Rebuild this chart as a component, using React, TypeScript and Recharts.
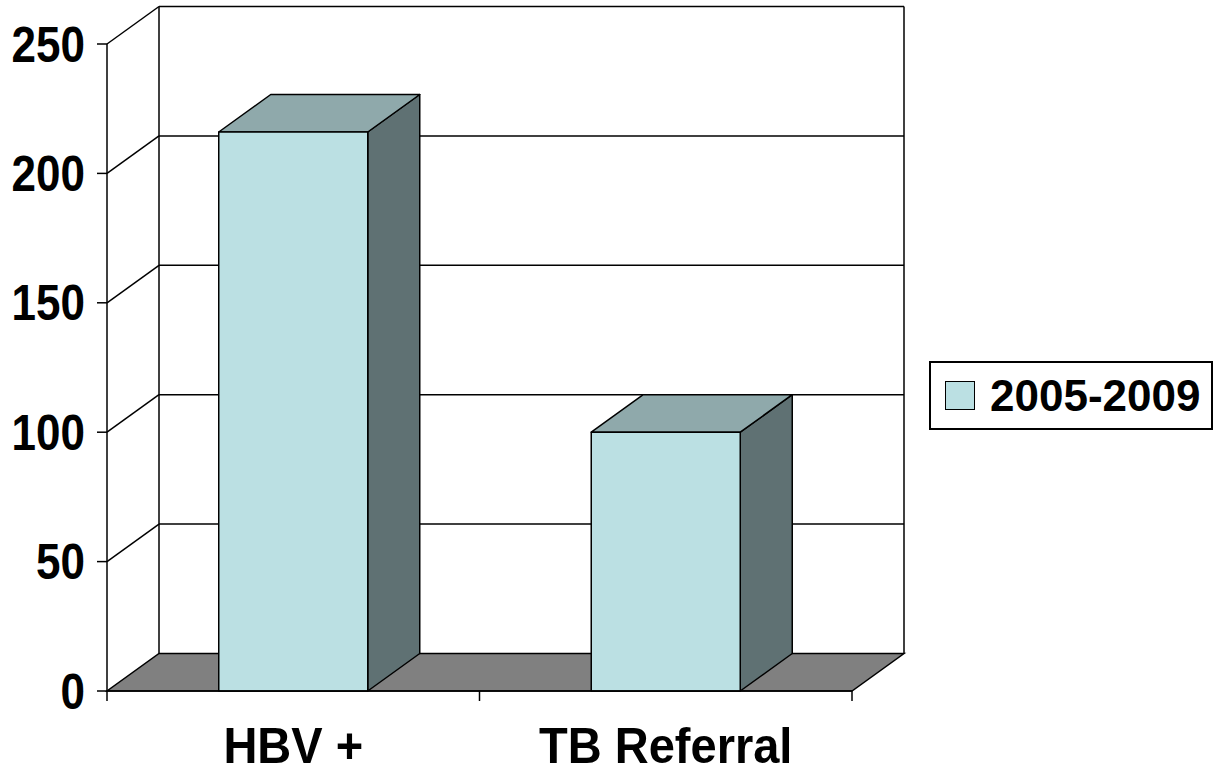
import React from 'react';
import { BarChart, Bar, XAxis, YAxis, CartesianGrid } from 'recharts';

const CATEGORIES = ['HBV +', 'TB Referral'];
const VALUES = [216, 100];
const SERIES_NAME = '2005-2009';
const Y_TICKS = [0, 50, 100, 150, 200, 250];

const FONT = '"Liberation Sans", Arial, sans-serif';
const FRONT = '#BBE0E3';
const TOP = '#8FA9AB';
const SIDE = '#5F7173';
const FLOOR = '#808080';

// 3D depth offset of the back wall
const DX = 52;
const DY = 37.5;
const X_TICK_SIZE = 10;
const X_TICK_MARGIN = 27;

const chartData = CATEGORIES.map((name, i) => ({ name, value: VALUES[i] }));

const WallLine = (props: any) => {
  const { x1, y1, x2 } = props;
  const pts: number[] = props.horizontalPoints || [];
  const top = pts.length ? Math.min(...pts) : props.y;
  const bottom = pts.length ? Math.max(...pts) : props.y + props.height;
  const isTop = Math.abs(y1 - top) < 0.5;
  const isBottom = Math.abs(y1 - bottom) < 0.5;
  const s = { stroke: '#000', strokeWidth: 1.5 };

  if (isBottom) {
    return (
      <polygon
        points={`${x1},${y1} ${x2},${y1} ${x2 + DX},${y1 - DY} ${x1 + DX},${y1 - DY}`}
        fill={FLOOR}
        {...s}
      />
    );
  }
  return (
    <g>
      <line x1={x1} y1={y1} x2={x1 + DX} y2={y1 - DY} {...s} />
      <line x1={x1 + DX} y1={y1 - DY} x2={x2 + DX} y2={y1 - DY} {...s} />
      {isTop && (
        <>
          <line x1={x1 + DX} y1={y1 - DY} x2={x1 + DX} y2={bottom - DY} {...s} />
          <line x1={x2 + DX} y1={y1 - DY} x2={x2 + DX} y2={bottom - DY} {...s} />
        </>
      )}
    </g>
  );
};

const Bar3D = (props: any) => {
  const { x, y, width, height } = props;
  if (!height) return null;
  const s = { stroke: '#000', strokeWidth: 1.5, strokeLinejoin: 'round' as const };
  return (
    <g>
      <polygon
        points={`${x + width},${y} ${x + width + DX},${y - DY} ${x + width + DX},${y + height - DY} ${x + width},${y + height}`}
        fill={SIDE}
        {...s}
      />
      <polygon
        points={`${x},${y} ${x + DX},${y - DY} ${x + width + DX},${y - DY} ${x + width},${y}`}
        fill={TOP}
        {...s}
      />
      <rect x={x} y={y} width={width} height={height} fill={FRONT} {...s} />
    </g>
  );
};

const CategoryTick = (props: any) => {
  const { x, y, payload, index, visibleTicksCount } = props;
  const half = payload?.offset ?? 186;
  const axisY = y - X_TICK_SIZE - X_TICK_MARGIN;
  const last = index === visibleTicksCount - 1;
  return (
    <g>
      <line x1={x - half} y1={axisY} x2={x - half} y2={axisY + X_TICK_SIZE} stroke="#000" strokeWidth={1.5} />
      {last && (
        <line x1={x + half} y1={axisY} x2={x + half} y2={axisY + X_TICK_SIZE} stroke="#000" strokeWidth={1.5} />
      )}
      <text
        transform={`translate(${x},${y}) scale(1,1.06)`}
        dy="0.71em"
        textAnchor="middle"
        fill="#000"
        fontSize={47}
        fontWeight="bold"
        fontFamily={FONT}
      >
        {payload.value}
      </text>
    </g>
  );
};

const ValueTick = (props: any) => {
  const { x, y, payload } = props;
  return (
    <text
      transform={`translate(${x},${y}) scale(1,1.13)`}
      dy="0.355em"
      textAnchor="end"
      fill="#000"
      fontSize={44}
      fontWeight="bold"
      fontFamily={FONT}
    >
      {payload.value}
    </text>
  );
};

export default function App() {
  return (
    <div style={{ position: 'absolute', left: 0, top: 0, width: 1215, height: 767, background: '#fff' }}>
      <BarChart
        width={1215}
        height={767}
        data={chartData}
        margin={{ top: 44, right: 363, left: 0, bottom: 0 }}
        barCategoryGap="30%"
      >
        <CartesianGrid
          vertical={false}
          stroke="#000"
          horizontal={(p: any) => {
            const { key, ...rest } = p;
            return <WallLine key={key} {...rest} />;
          }}
        />
        <XAxis
          dataKey="name"
          height={76}
          axisLine={{ stroke: '#000', strokeWidth: 1.5 }}
          tickLine={false}
          tickSize={X_TICK_SIZE}
          tickMargin={X_TICK_MARGIN}
          tick={<CategoryTick />}
          interval={0}
        />
        <YAxis
          width={107}
          domain={[0, 250]}
          ticks={Y_TICKS}
          interval={0}
          axisLine={{ stroke: '#000', strokeWidth: 1.5 }}
          tickLine={{ stroke: '#000', strokeWidth: 1.5 }}
          tickSize={10}
          tickMargin={12}
          tick={<ValueTick />}
        />
        <Bar dataKey="value" name={SERIES_NAME} shape={<Bar3D />} isAnimationActive={false} />
      </BarChart>
      <div
        style={{
          position: 'absolute',
          left: 929,
          top: 361,
          width: 280,
          height: 65,
          border: '2px solid #000',
          display: 'flex',
          alignItems: 'center',
          fontFamily: FONT,
          fontWeight: 'bold',
          fontSize: 44,
          color: '#000',
          boxSizing: 'content-box',
        }}
      >
        <span
          style={{
            display: 'inline-block',
            width: 28,
            height: 27,
            marginLeft: 14,
            marginRight: 15,
            background: FRONT,
            border: '1.5px solid #000',
          }}
        />
        <span>{SERIES_NAME}</span>
      </div>
    </div>
  );
}
